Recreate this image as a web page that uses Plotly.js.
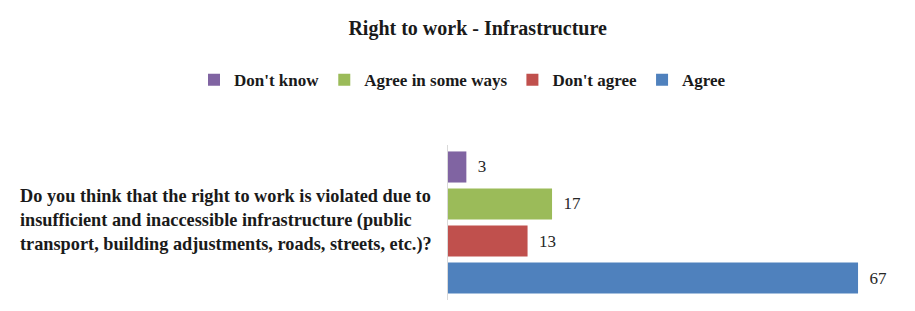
<!DOCTYPE html>
<html>
<head>
<meta charset="utf-8">
<script src="https://cdn.plot.ly/plotly-3.0.1.min.js"></script>
<style>html,body{margin:0;padding:0;background:#fff;}#chart{width:915px;height:311px;}</style>
</head>
<body>
<div id="chart"></div>
<script>
const categories = ["Do you think that the right to work is violated due to<br>insufficient and inaccessible infrastructure (public<br>transport, building adjustments, roads, streets, etc.)?"];
const seriesNames = ["Agree", "Don't agree", "Agree in some ways", "Don't know"];
const agree = [67];
const dontAgree = [13];
const agreeSomeWays = [17];
const dontKnow = [3];
const seriesValues = [agree, dontAgree, agreeSomeWays, dontKnow];
const seriesColors = ["#4F81BD", "#C0504D", "#9BBB59", "#8064A2"];

const serif = "Liberation Serif, Times New Roman, serif";
const traces = seriesNames.map((name, i) => ({
  type: "bar",
  orientation: "h",
  name: name,
  y: categories,
  x: seriesValues[i],
  marker: {color: seriesColors[i]},
  texttemplate: "\u00a0\u00a0%{x}",
  textposition: "outside",
  cliponaxis: false,
  textfont: {family: serif, size: 17, color: "#262626"},
  hoverinfo: "x+name"
}));

const marginL = 10, marginR = 8, W = 915;
const plotW = W - marginL - marginR;
const axisStart = (448 - marginL) / plotW;

const layout = {
  width: W, height: 311,
  margin: {l: marginL, r: marginR, t: 145, b: 11},
  paper_bgcolor: "#ffffff", plot_bgcolor: "#ffffff",
  barmode: "group",
  bargap: 0.045,
  bargroupgap: 0.16,
  title: {
    text: "<b>Right to work - Infrastructure</b>",
    font: {family: serif, size: 20, color: "#1a1a1a"},
    xref: "container", x: 0.522, xanchor: "center",
    yref: "container", y: 0.91, yanchor: "middle"
  },
  showlegend: true,
  legend: {
    orientation: "h", traceorder: "reversed",
    xref: "container", x: 194 / 915, xanchor: "left",
    yref: "container", y: 0.742, yanchor: "middle",
    font: {family: serif, size: 17, color: "#1a1a1a", weight: "bold"},
    itemwidth: 30
  },
  xaxis: {
    domain: [axisStart, 1],
    range: [0, 75], showgrid: false, zeroline: false, showline: false,
    showticklabels: false, ticks: ""
  },
  yaxis: {
    anchor: "x",
    range: [-0.5, 0.5], showgrid: false, zeroline: false,
    showline: true, linecolor: "#d9d9d9", linewidth: 1,
    showticklabels: false, ticks: ""
  },
  annotations: [{
    text: "<b>" + categories[0] + "</b>",
    xref: "paper", x: axisStart, xanchor: "right", xshift: -14,
    yref: "y", y: categories[0], yanchor: "middle", yshift: 2,
    align: "left", showarrow: false,
    font: {family: serif, size: 18.3, color: "#1a1a1a"}
  }]
};
Plotly.newPlot("chart", traces, layout, {displayModeBar: false, staticPlot: true});
</script>
</body>
</html>
